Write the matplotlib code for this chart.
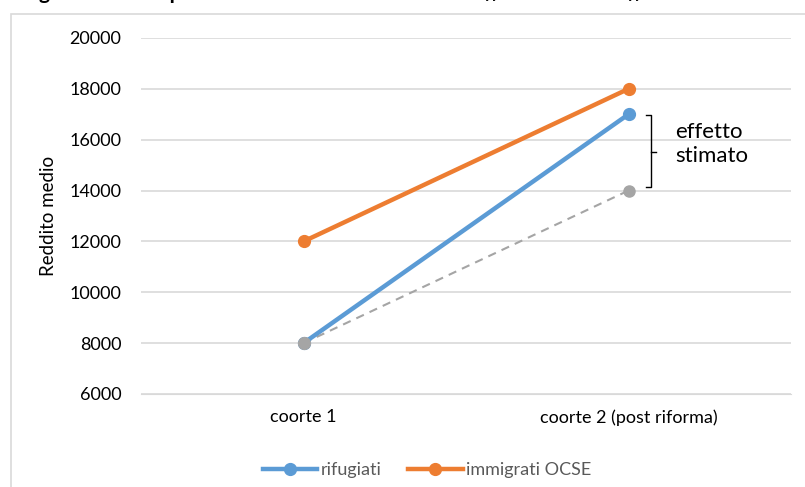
import numpy as np
import matplotlib
matplotlib.use("Agg")
import matplotlib.pyplot as plt
from matplotlib.patches import Rectangle

plt.rcParams['font.family'] = ['Lato', 'DejaVu Sans']

categorie = ["coorte 1", "coorte 2 (post riforma)"]
rifugiati = [8000, 17000]
immigrati_ocse = [12000, 18000]
controfattuale = [8000, 14000]
y_ticks = [6000, 8000, 10000, 12000, 14000, 16000, 18000, 20000]

blu = "#5B9BD5"
arancio = "#ED7D31"
grigio = "#A5A5A5"
testo = "#595959"

fig = plt.figure(figsize=(8.05, 4.87), dpi=100)
ax = fig.add_axes([141 / 805, 1 - 394 / 487, 650 / 805, (394 - 38) / 487])

# bordo dell'area grafico
fig.patches.append(Rectangle((11 / 805, -0.1), 1.2, 1 - 14 / 487 + 0.1,
                             transform=fig.transFigure, fill=False,
                             edgecolor="#D9D9D9", linewidth=1.2))

x = np.arange(len(categorie)) + 0.5
ax.plot(x, controfattuale, color=grigio, linestyle=(0, (4, 3)), linewidth=1.5,
        marker="o", markersize=8, zorder=3)
ax.plot(x, rifugiati, color=blu, linewidth=3.2, marker="o", markersize=8.5,
        label="rifugiati", zorder=4)
ax.plot(x, immigrati_ocse, color=arancio, linewidth=3.2, marker="o", markersize=8.5,
        label="immigrati OCSE", zorder=4)
# punto grigio sopra l'inizio
ax.plot(x[0], controfattuale[0], "o", color=grigio, markersize=8.5, zorder=5)

ax.set_xlim(0, 2)
ax.set_ylim(6000, 20000)
ax.set_yticks(y_ticks)
ax.set_yticklabels([str(v) for v in y_ticks])
ax.set_xticks(x)
ax.set_xticklabels(categorie)
ax.grid(axis="y", color="#D9D9D9", linewidth=1.2)
ax.set_axisbelow(True)
for s in ax.spines.values():
    s.set_visible(False)
ax.spines["bottom"].set_visible(True)
ax.spines["bottom"].set_color("#D9D9D9")
ax.tick_params(axis="both", length=0, labelsize=13, colors="black")
ax.tick_params(axis="y", pad=14)
ax.tick_params(axis="x", pad=11)
ax.set_ylabel("Reddito medio", fontsize=13.5, labelpad=9)

# parentesi graffa "effetto stimato"
xb = 1.569
ax.plot([xb - 0.016, xb, xb, xb - 0.016], [16980, 16980, 14150, 14150],
        color="black", linewidth=1)
ax.plot([xb, xb + 0.016], [15530, 15530], color="black", linewidth=1)
ax.text(xb + 0.075, 15830, "effetto\nstimato", fontsize=16, va="center",
        ha="left", linespacing=1.2)

leg = ax.legend(loc="upper center", bbox_to_anchor=(0.44, -0.145), ncol=2,
                frameon=False, fontsize=13, handlelength=3, columnspacing=1.5,
                handletextpad=0.2)
for t in leg.get_texts():
    t.set_color(testo)

# titolo tagliato in alto
fig.canvas.draw()
r = fig.canvas.get_renderer()
parti = [("Figura 1 – Esempio illustrativo del metodo delle ", "normal"),
         ("differenze", "italic"), (" nelle ", "normal"), ("differenze", "italic")]
xpos = 22 / 805
for s, st in parti:
    t = fig.text(xpos, 1 + 0.5 / 487, s, fontsize=15, fontweight="bold",
                 style=st, va="baseline", ha="left")
    bb = t.get_window_extent(renderer=r)
    xpos += bb.width / 805

fig.savefig("out.png", dpi=100)
